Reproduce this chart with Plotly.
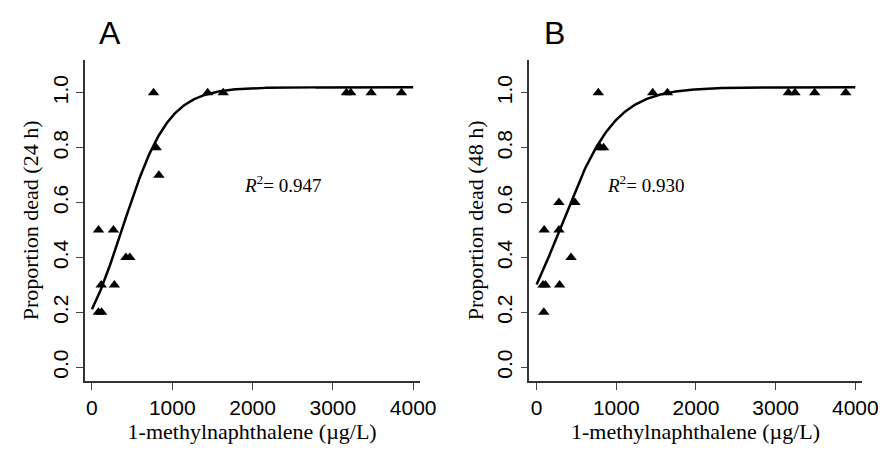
import numpy as np
import plotly.graph_objects as go

# observed mortality, 24 h
conc_24 = [80, 120, 82, 267, 115, 279, 423, 472, 767, 800, 834, 1441, 1634, 3169, 3223, 3477, 3855]
dead_24 = [0.2, 0.2, 0.5, 0.5, 0.3, 0.3, 0.4, 0.4, 1.0, 0.8, 0.7, 1.0, 1.0, 1.0, 1.0, 1.0, 1.0]
# observed mortality, 48 h
conc_48 = [90, 95, 80, 110, 288, 280, 280, 432, 481, 774, 800, 840, 1457, 1642, 3160, 3243, 3490, 3880]
dead_48 = [0.2, 0.5, 0.3, 0.3, 0.3, 0.6, 0.5, 0.4, 0.6, 1.0, 0.8, 0.8, 1.0, 1.0, 1.0, 1.0, 1.0, 1.0]

# fitted logistic parameters (upper, slope, midpoint)
fit_24 = (1.02, 0.0035, 383)
fit_48 = (1.02, 0.0029, 300)
r2_labels = ["0.947", "0.930"]
hours = ["24", "48"]
panel_letters = ["A", "B"]

def logistic(x, p):
    top, k, x0 = p
    return top / (1 + np.exp(-k * (x - x0)))

fig = go.Figure()
xx = np.linspace(0, 4000, 400)
panels = [(conc_24, dead_24, fit_24), (conc_48, dead_48, fit_48)]
xdoms = [[0.088, 0.472], [0.598, 0.979]]
for i, (cx, cy, p) in enumerate(panels):
    n = "" if i == 0 else "2"
    fig.add_trace(go.Scatter(x=cx, y=cy, mode="markers", xaxis="x" + n, yaxis="y" + n,
                             marker=dict(symbol="triangle-up", size=10, color="black"), showlegend=False))
    fig.add_trace(go.Scatter(x=xx, y=logistic(xx, p), mode="lines", xaxis="x" + n, yaxis="y" + n,
                             line=dict(color="black", width=2.5), showlegend=False))
    ax = dict(domain=xdoms[i], range=[-90, 4080], tickvals=[0, 1000, 2000, 3000, 4000],
              showline=True, linecolor="#333", linewidth=1.5, ticks="outside", ticklen=7,
              showgrid=False, zeroline=False, tickfont=dict(family="Arial", size=21, color="black"),
              title=dict(text="1-methylnaphthalene (µg/L)", standoff=4,
                         font=dict(family="Liberation Serif", size=22, color="black")),
              anchor="y" + n)
    ay = dict(domain=[0.173, 0.885], range=[-0.05, 1.12], tickvals=[0, 0.2, 0.4, 0.6, 0.8, 1.0],
              tickformat=".1f", tickangle=-90, showline=True, linecolor="#333", linewidth=1.5,
              ticks="outside", ticklen=7, showgrid=False, zeroline=False,
              tickfont=dict(family="Arial", size=21, color="black"),
              title=dict(text="Proportion dead (%s h)" % hours[i], standoff=4,
                         font=dict(family="Liberation Serif", size=22, color="black")),
              anchor="x" + n)
    fig.update_layout({"xaxis" + n: ax, "yaxis" + n: ay})
    fig.add_annotation(x=xdoms[i][0] + 0.18, y=0.61, xref="paper", yref="paper",
                       text="<i>R</i><sup>2</sup>= %s" % r2_labels[i], showarrow=False,
                       font=dict(family="Liberation Serif", size=19, color="black"))
    fig.add_annotation(x=xdoms[i][0] + 0.014, y=0.99, xref="paper", yref="paper", xanchor="left",
                       yanchor="top", text=panel_letters[i], showarrow=False,
                       font=dict(family="Arial", size=32, color="black"))

fig.update_layout(width=889, height=451, margin=dict(l=0, r=0, t=0, b=0),
                  plot_bgcolor="white", paper_bgcolor="white")
fig.write_html("out.html")
